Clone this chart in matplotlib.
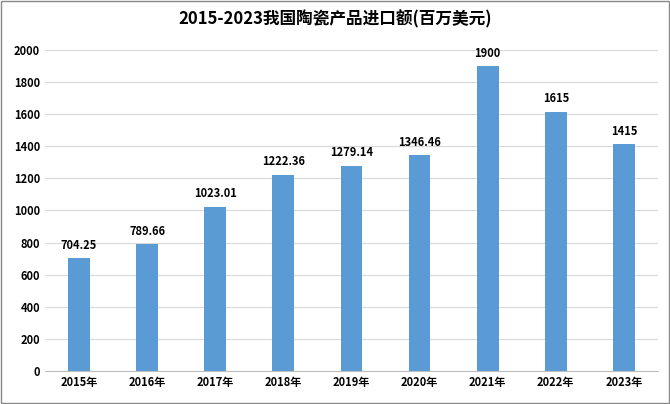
import matplotlib
matplotlib.use('Agg')
import matplotlib.pyplot as plt

plt.rcParams['font.family'] = ['Noto Sans CJK SC', 'DejaVu Sans']

years = ['2015年', '2016年', '2017年', '2018年', '2019年', '2020年', '2021年', '2022年', '2023年']
values = [704.25, 789.66, 1023.01, 1222.36, 1279.14, 1346.46, 1900, 1615, 1415]
labels = ['704.25', '789.66', '1023.01', '1222.36', '1279.14', '1346.46', '1900', '1615', '1415']

fig = plt.figure(figsize=(6.7, 4.04), dpi=100)
ax = fig.add_axes([0.067, 0.082, 0.915, 0.794])

bars = ax.bar(range(len(years)), values, width=0.32, color='#5B9BD5', zorder=2)
for bar, lab in zip(bars, labels):
    ax.text(bar.get_x() + bar.get_width() / 2, bar.get_height() + 40, lab,
            ha='center', va='bottom', fontsize=8, fontweight='bold')

ax.set_ylim(0, 2000)
ax.set_yticks(range(0, 2001, 200))
ax.set_xlim(-0.5, len(years) - 0.5)
ax.set_xticks(range(len(years)))
ax.set_xticklabels(years, fontweight='bold')
ax.tick_params(labelsize=8, length=0)
for t in ax.get_yticklabels():
    t.set_fontweight('bold')
ax.grid(axis='y', color='#d9d9d9', linewidth=0.8, zorder=0)
for s in ['top', 'right', 'left']:
    ax.spines[s].set_visible(False)
ax.spines['bottom'].set_color('#bfbfbf')

fig.suptitle('2015-2023我国陶瓷产品进口额(百万美元)', y=0.975, fontsize=12, fontweight='bold')
fig.patches.append(plt.Rectangle((0.002, 0.002), 0.996, 0.996, transform=fig.transFigure,
                                 fill=False, edgecolor='#888888', linewidth=1))
fig.savefig('out.png', dpi=100)
